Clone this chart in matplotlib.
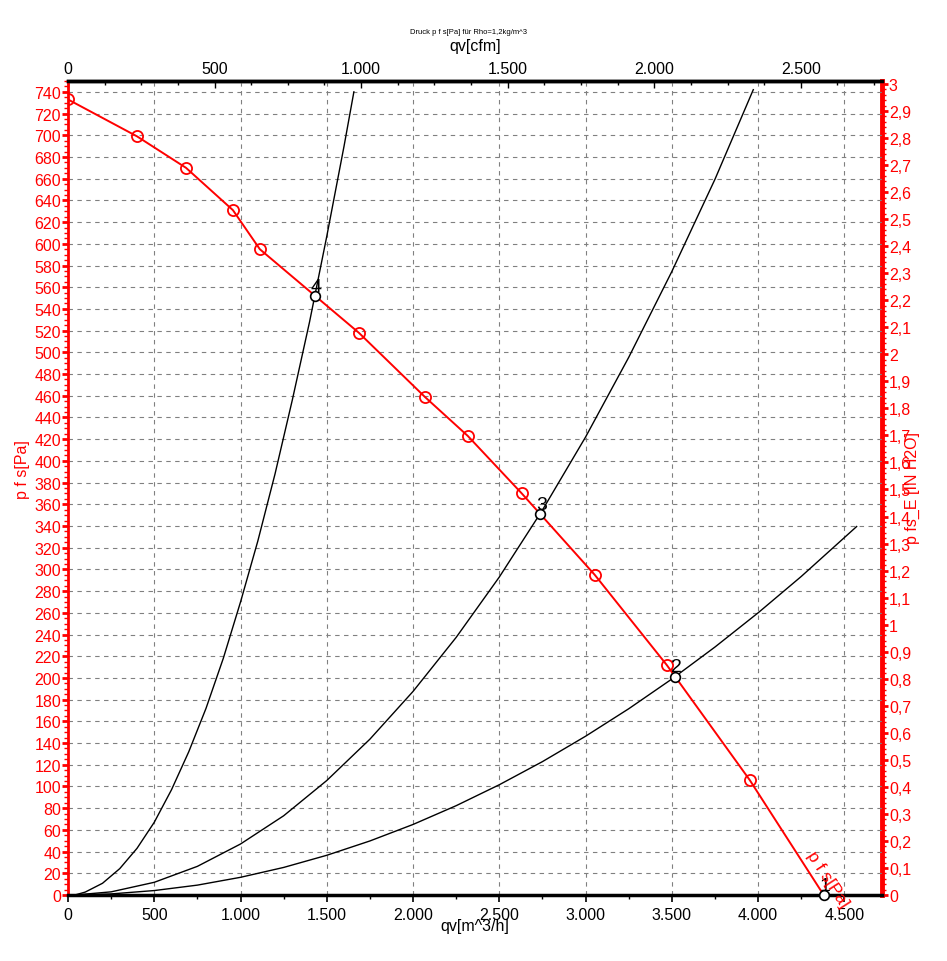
import matplotlib
matplotlib.use("Agg")
import matplotlib.pyplot as plt
from matplotlib.ticker import MultipleLocator, FixedLocator, FuncFormatter

plt.rcParams['font.family'] = ['Liberation Sans Narrow', 'Liberation Sans', 'DejaVu Sans']

# fan curve p f s [Pa] over qv [m^3/h]
fan_q = [0, 400, 684, 956, 1112, 1686, 2068, 2317, 2630, 3053, 3470, 3951, 4380]
fan_p = [733, 699, 670, 631, 595, 518, 459, 423, 370, 295, 212, 106, 0]

# system curves
sys4_q = [40, 100, 200, 300, 400, 500, 600, 700, 800, 900, 1000, 1100, 1200, 1300,
          1400, 1500, 1600, 1657]
sys4_p = [0, 2.7, 10.8, 24.3, 43, 67, 97, 132, 172, 218, 270, 326, 388, 456,
          528, 607, 690, 740]
sys3_q = [40, 250, 500, 750, 1000, 1250, 1500, 1750, 2000, 2250, 2500, 2750, 3000,
          3250, 3500, 3750, 3972]
sys3_p = [0, 2.9, 11.7, 26.4, 47, 73, 105.5, 143.6, 187.6, 237.4, 293, 354.7, 422,
          495.4, 574.5, 659.5, 742]
sys2_q = [40, 250, 500, 750, 1000, 1250, 1500, 1750, 2000, 2250, 2500, 2750, 3000,
          3250, 3500, 3750, 4000, 4250, 4571]
sys2_p = [0, 1, 4.1, 9.1, 16.3, 25.4, 36.6, 49.8, 65, 82.3, 101.6, 122.9, 146.3,
          171.6, 199, 228.5, 260, 293.5, 339.5]

# operating points
op_labels = ['1', '2', '3', '4']
op_q = [4380, 3517, 2735, 1431]
op_p = [0, 201, 351, 552]

cfm_ticks = [0, 500, 1000, 1500, 2000, 2500]

M3H_TO_CFM = 0.58858
PA_PER_INH2O = 249.09


def fmt_thousands(v, p):
    return f"{int(round(v)):,}".replace(',', '.')


def fmt_inh2o(v, p):
    if abs(v - round(v)) < 1e-6:
        return str(int(round(v)))
    return f"{v:.1f}".replace('.', ',')


fig = plt.figure(figsize=(9.47, 9.62), dpi=100)
ax = fig.add_axes([68 / 947, 66 / 962, 814 / 947, 814 / 962])
ax.set_xlim(0, 4718)
ax.set_ylim(0, 750)

ax.grid(True, which='major', color='#808080', linestyle=(0, (4, 4)), linewidth=0.8)

ax.plot(sys4_q, sys4_p, color='black', linewidth=1)
ax.plot(sys3_q, sys3_p, color='black', linewidth=1)
ax.plot(sys2_q, sys2_p, color='black', linewidth=1)

ax.plot(fan_q, fan_p, color='#ff0000', linewidth=1.4, zorder=3)
ax.plot(fan_q[:-1], fan_p[:-1], linestyle='none', marker='o', markersize=8,
        markerfacecolor='none', markeredgecolor='#ff0000', markeredgewidth=1.3, zorder=4)

ax.plot(op_q, op_p, linestyle='none', marker='o', markersize=7, markerfacecolor='white',
        markeredgecolor='black', markeredgewidth=1.2, zorder=5, clip_on=False)
for lab, q, p in zip(op_labels, op_q, op_p):
    ax.annotate(lab, (q, p), xytext=(1, 1), textcoords='offset points',
                ha='center', va='bottom', fontsize=14, color='black', zorder=6)

ax.text(4405, 15, 'p f s[Pa]', color='#ff0000', fontsize=12.5, rotation=-57,
        ha='center', va='center', zorder=6)

# bottom axis
ax.xaxis.set_major_locator(MultipleLocator(500))
ax.xaxis.set_minor_locator(MultipleLocator(250))
ax.xaxis.set_major_formatter(FuncFormatter(fmt_thousands))
ax.tick_params(axis='x', which='major', direction='out', length=5, width=1.2,
               labelsize=11.5, colors='black')
ax.tick_params(axis='x', which='minor', direction='out', length=3, width=1)

# left axis
ax.yaxis.set_major_locator(MultipleLocator(20))
ax.yaxis.set_minor_locator(MultipleLocator(5))
ax.tick_params(axis='y', which='major', direction='out', length=4, width=2,
               labelsize=11.5, colors='#ff0000', pad=1)
ax.tick_params(axis='y', which='minor', direction='out', length=3, width=1, colors='#ff0000')

for s in ['top', 'bottom']:
    ax.spines[s].set_color('black')
    ax.spines[s].set_linewidth(2.5)
ax.spines['left'].set_color('#ff0000')
ax.spines['left'].set_linewidth(2)
ax.spines['right'].set_visible(False)

# top axis in cfm
top = ax.secondary_xaxis('top', functions=(lambda x: x * M3H_TO_CFM, lambda x: x / M3H_TO_CFM))
top.xaxis.set_major_locator(FixedLocator(cfm_ticks))
top.xaxis.set_minor_locator(MultipleLocator(125))
top.xaxis.set_major_formatter(FuncFormatter(fmt_thousands))
top.tick_params(axis='x', which='major', direction='in', length=5, width=1, labelsize=11.5)
top.tick_params(axis='x', which='minor', direction='in', length=3, width=1)
top.spines['top'].set_linewidth(2.5)

# right axis in inch H2O
right = ax.secondary_yaxis('right', functions=(lambda y: y / PA_PER_INH2O, lambda y: y * PA_PER_INH2O))
right.yaxis.set_major_locator(MultipleLocator(0.1))
right.yaxis.set_minor_locator(MultipleLocator(0.02))
right.yaxis.set_major_formatter(FuncFormatter(fmt_inh2o))
right.tick_params(axis='y', which='major', direction='out', length=4, width=2,
                  labelsize=11.5, colors='#ff0000', pad=1)
right.tick_params(axis='y', which='minor', direction='out', length=3, width=1, colors='#ff0000')
right.spines['right'].set_color('#ff0000')
right.spines['right'].set_linewidth(3.5)

fig.text(468 / 947, 1 - 32 / 962, 'Druck p f s[Pa] für Rho=1,2kg/m^3', fontsize=5.5,
         ha='center', va='center')
fig.text(475 / 947, 1 - 47 / 962, 'qv[cfm]', fontsize=11.5, ha='center', va='center')
fig.text(475 / 947, 1 - 927 / 962, 'qv[m^3/h]', fontsize=11.5, ha='center', va='center')
fig.text(22 / 947, 1 - 470 / 962, 'p f s[Pa]', fontsize=11.5, color='#ff0000',
         rotation=90, ha='center', va='center')
fig.text(912 / 947, 1 - 488 / 962, 'p fs_E [IN H2O]', fontsize=11.5, color='#ff0000',
         rotation=90, ha='center', va='center')

fig.savefig('out.png', dpi=100)
